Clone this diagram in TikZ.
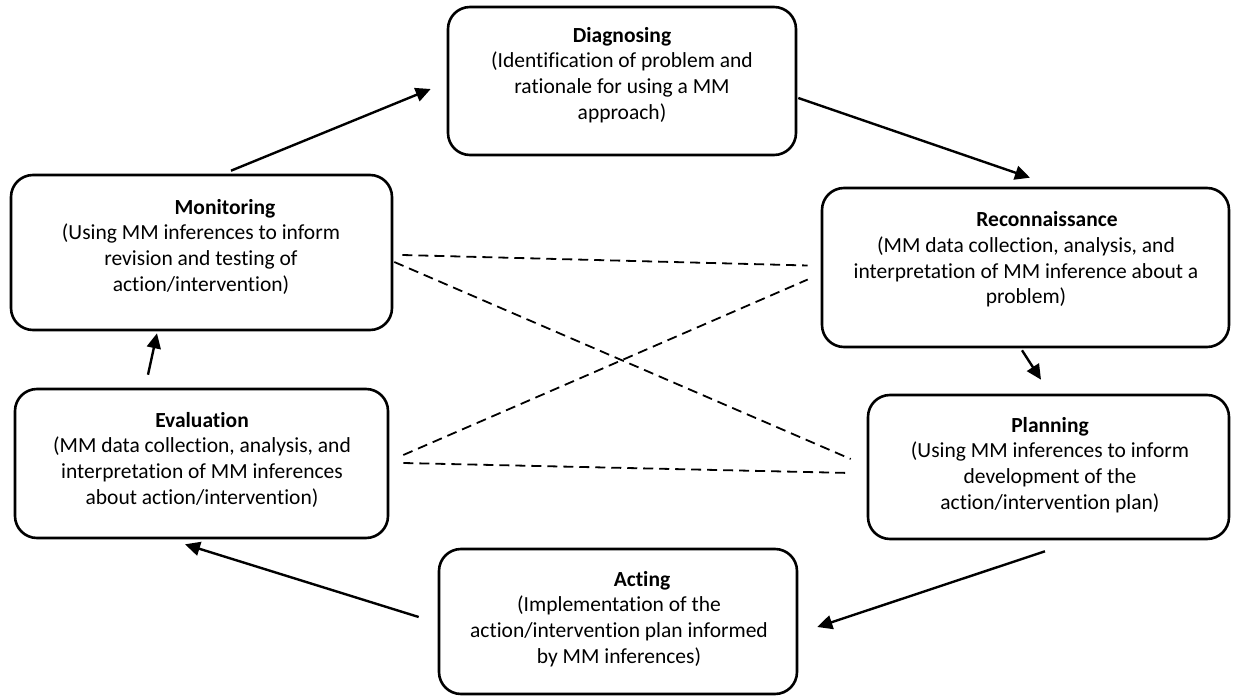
\documentclass[tikz,border=0pt]{standalone}
\usepackage{fontspec}
\setmainfont{Carlito}[Ligatures={NoCommon,NoContextual},Contextuals={NoAlternate}]
\usetikzlibrary{arrows.meta,calc}
\begin{document}
\begin{tikzpicture}[x=1pt,y=-1pt,
  box/.style={draw, line width=2.6pt, rounded corners=22pt, inner sep=0pt},
  txt/.style={align=center, font=\fontsize{21.5}{25.7}\selectfont, inner sep=0pt},
  arr/.style={line width=2.4pt, -{Triangle[length=15pt,width=14pt]}},
  dsh/.style={line width=1.8pt, dash pattern=on 10pt off 6pt}]
\useasboundingbox (0,0) rectangle (1235,698);
% boxes
\node[box, minimum width=348, minimum height=148] (diag) at (622,81) {};
\node[box, minimum width=381, minimum height=155] (mon) at (201.5,252.5) {};
\node[box, minimum width=407, minimum height=159] (rec) at (1025.5,267.5) {};
\node[box, minimum width=361, minimum height=144] (plan) at (1048.5,467) {};
\node[box, minimum width=373, minimum height=149] (eval) at (201.5,463.5) {};
\node[box, minimum width=358, minimum height=145] (act) at (618,621.5) {};
% texts
\node[txt] (diagT) at (622,75) {\textbf{Diagnosing}\\(Identification of problem and\\rationale for using a MM\\approach)};
\node[txt] (monT) at (201,246.5) {\hspace*{48pt}\textbf{Monitoring}\\(Using MM inferences to inform\\revision and testing of\\action/intervention)};
\node[txt] (recT) at (1026,259.5) {\hspace*{42pt}\textbf{Reconnaissance}\\(MM data collection, analysis, and\\interpretation of MM inference about a\hspace*{28pt}\\problem)};
\node[txt] (planT) at (1050,465) {\textbf{Planning}\\(Using MM inferences to inform\\development of the\\action/intervention plan)};
\node[txt] (evalT) at (202,459.5) {\textbf{Evaluation}\\(MM data collection, analysis, and\\interpretation of MM inferences\\about action/intervention)};
\node[txt] (actT) at (619,619) {\hspace*{46pt}\textbf{Acting}\\(Implementation of the\\action/intervention plan informed\\by MM inferences)};
% arrows
\draw[arr] ($(mon.north)+(29.5,-3)$) -- ($(diag.west)+(-16,8)$);
\draw[arr] ($(diag.east)+(1,17)$) -- ($(rec.north)+(4.5,-9)$);
\draw[arr] ($(rec.south)+(-3.5,2)$) -- ($(plan.north)+(-7.5,-14)$);
\draw[arr] ($(plan.south)+(-3.5,11)$) -- ($(act.east)+(19,5.5)$);
\draw[arr] ($(act.west)+(-19,-4.5)$) -- ($(eval.south)+(-16.5,5)$);
\draw[arr] ($(eval.north)+(-53.5,-13)$) -- ($(mon.south)+(-44.5,2)$);
% dashed
\draw[dsh] ($(mon.east)+(9,2.5)$) -- ($(rec.west)+(-13,-2)$);
\draw[dsh] ($(mon.east)+(1,9.5)$) -- ($(plan.west)+(-16,-8)$);
\draw[dsh] ($(eval.east)+(14,-8.5)$) -- ($(rec.west)+(-13,12)$);
\draw[dsh] ($(eval.east)+(14,-0.5)$) -- ($(plan.west)+(-16,6)$);
\end{tikzpicture}
\end{document}
